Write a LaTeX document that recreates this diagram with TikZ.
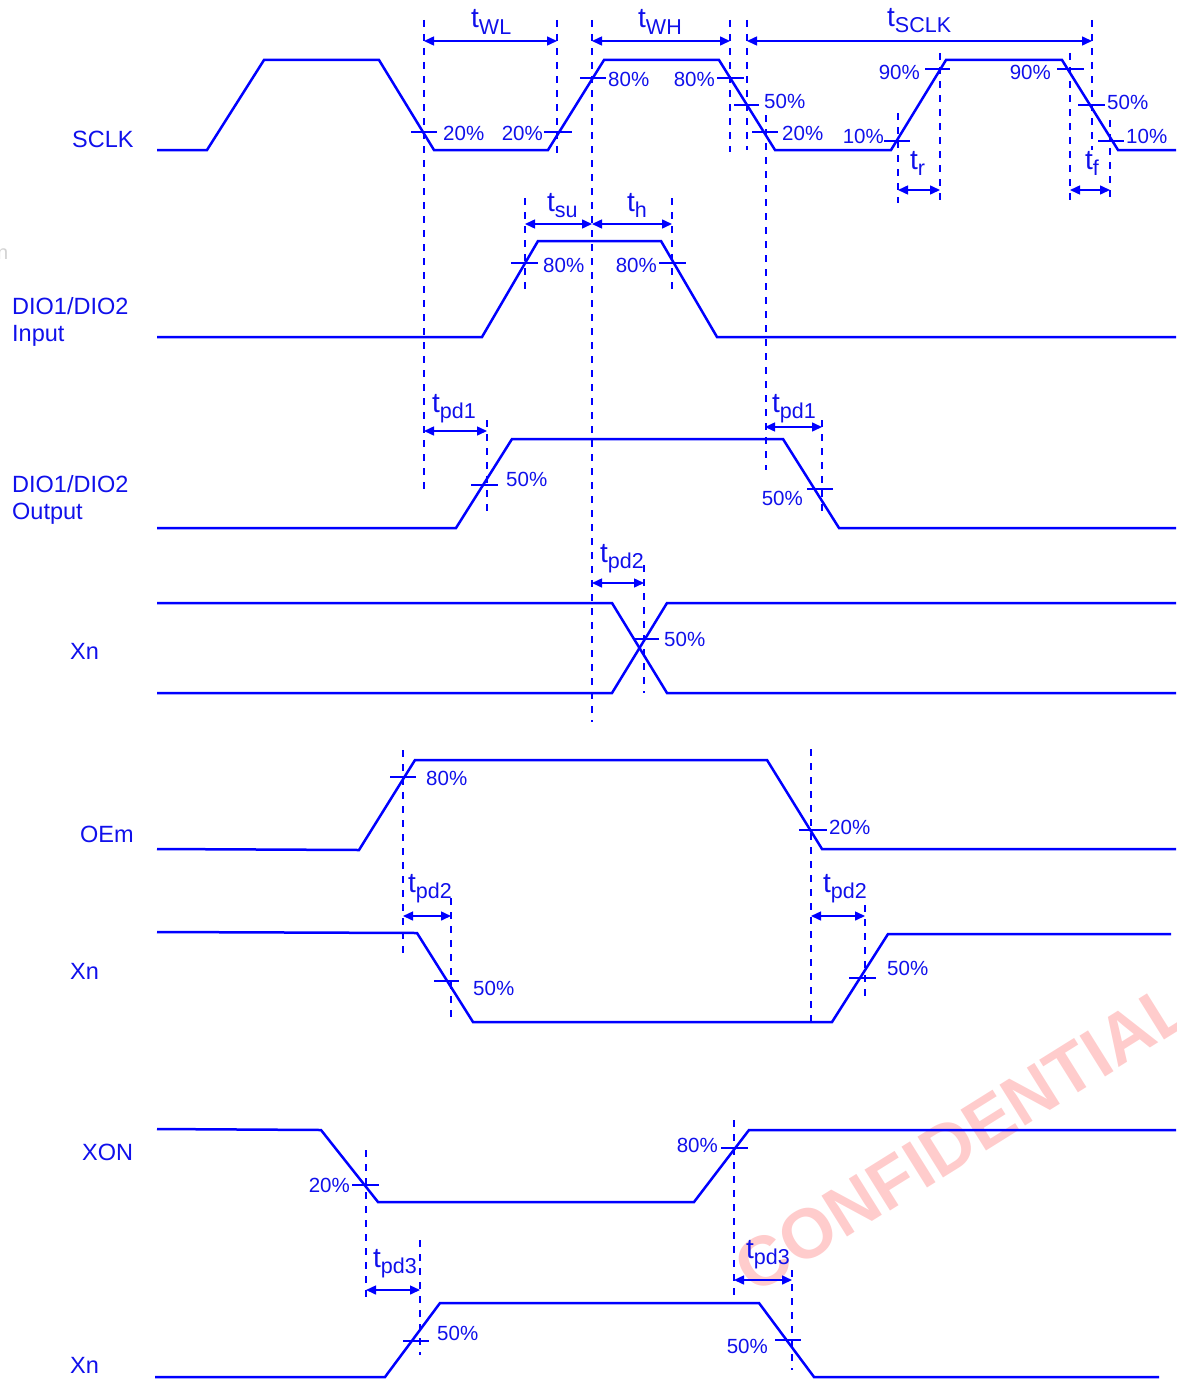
\documentclass[tikz,border=0pt]{standalone}
\usepackage{fontspec}
\setmainfont{Liberation Sans}
\usetikzlibrary{arrows.meta}
\definecolor{sig}{RGB}{0,0,255}
\definecolor{txt}{RGB}{16,16,235}
\definecolor{wm}{RGB}{255,204,204}
\newcommand\tsub[1]{t\raisebox{-6pt}{\fontsize{21.5}{21.5}\selectfont #1}}
\begin{document}
\begin{tikzpicture}[x=1pt,y=-1pt,
  wave/.style={draw=sig,line width=2.5pt},
  tick/.style={draw=sig,line width=2.4pt},
  guide/.style={draw=sig,line width=2pt,dash pattern=on 7pt off 7pt},
  dim/.style={draw=sig,line width=1.5pt,{Triangle[length=10pt,width=9pt]}-{Triangle[length=10pt,width=9pt]}},
  pl/.style={text=txt,inner sep=0pt,font=\fontsize{20.5}{20.5}\selectfont,anchor=base west},
  pr/.style={pl,anchor=base east},
  nm/.style={text=txt,inner sep=0pt,font=\fontsize{23.5}{26}\selectfont,anchor=base west},
  tl/.style={text=txt,inner sep=0pt,font=\fontsize{28}{28}\selectfont,anchor=base west}]
\useasboundingbox (0,0) rectangle (1176,1381);
% watermark
\node[rotate=32,text=wm,inner sep=0pt,font=\fontsize{70}{70}\selectfont\bfseries] (wmk) at (963,1137) {CONFIDENTIAL};
\node[text=gray!35,inner sep=0pt,font=\fontsize{20}{20}\selectfont,anchor=base west] (stray) at (-3,259) {n};
% guide lines
\foreach \x/\a/\b in {424/20/495, 557/20/155, 592/20/722, 730/20/152, 747/20/150, 766/115/470,
  898/113/203, 940/53/200, 1070/53/200, 1092/20/150, 1110/120/203,
  525/198/293, 672/198/293, 487/420/515, 822/420/515, 644/565/693,
  403/750/958, 451/898/1020, 811/749/1025, 865/905/1000,
  366/1150/1303, 420/1240/1355, 734/1120/1297, 792/1270/1370}
  \draw[guide] (\x,\a) -- (\x,\b);
% waveforms
\draw[wave] (157,150)--(207,150)--(264,60)--(379,60)--(434,150)--(548,150)--(604,60)--(719,60)--(775,150)--(891,150)--(946,60)--(1062,60)--(1118,150)--(1176,150);
\draw[wave] (157,337)--(482,337)--(538,241)--(661,241)--(717,337)--(1176,337);
\draw[wave] (157,528)--(456,528)--(512,439)--(783,439)--(839,528)--(1176,528);
\draw[wave] (157,603)--(612,603)--(667,693)--(1176,693);
\draw[wave] (157,693)--(612,693)--(667,603)--(1176,603);
\draw[wave] (157,849)--(359,850)--(415,760)--(767,760)--(822,849)--(1176,849);
\draw[wave] (157,932)--(417,933)--(473,1022)--(832,1022)--(888,934)--(1171,934);
\draw[wave] (157,1129)--(321,1130)--(378,1202)--(694,1202)--(749,1130)--(1176,1130);
\draw[wave] (155,1377)--(385,1377)--(440,1303)--(759,1303)--(814,1377)--(1159,1377);
% ticks
\foreach \y/\a/\b in {132/411/437, 132/544/572, 78/580/606, 78/717/744, 105/734/759, 132/752/778,
  141/884/910, 69/925/950, 69/1057/1084, 105/1078/1105, 141/1098/1124,
  263/511/538, 263/659/686, 485/471/498, 489/807/833, 639/635/659,
  777/390/416, 830/799/827, 981/434/459, 978/849/876,
  1185/352/379, 1148/721/748, 1341/403/429, 1340/775/801}
  \draw[tick] (\a,\y) -- (\b,\y);
% dimension arrows
\foreach \y/\a/\b in {41/424/557, 41/592/730, 41/747/1092, 190/898/940, 190/1070/1110,
  224/525/592, 224/592/672, 431/424/487, 427/765/822, 583/592/644,
  916/403/451, 916/811/865, 1290/366/420, 1280/734/792}
  \draw[dim] (\a,\y) -- (\b,\y);
% timing labels
\node[tl] (twl) at (471,28) {\tsub{WL}};
\node[tl] (twh) at (638,28) {\tsub{WH}};
\node[tl] (tsclk) at (887,27) {\tsub{SCLK}};
\node[tl] (tr) at (910,169) {\tsub{r}};
\node[tl] (tf) at (1085,169) {\tsub{f}};
\node[tl] (tsu) at (547,211) {\tsub{su}};
\node[tl] (th) at (627,211) {\tsub{h}};
\node[tl] (tpda) at (432,412) {\tsub{pd1}};
\node[tl] (tpdb) at (772,412) {\tsub{pd1}};
\node[tl] (tpdc) at (600,562) {\tsub{pd2}};
\node[tl] (tpdd) at (408,892) {\tsub{pd2}};
\node[tl] (tpde) at (823,892) {\tsub{pd2}};
\node[tl] (tpdf) at (373,1267) {\tsub{pd3}};
\node[tl] (tpdg) at (746,1258) {\tsub{pd3}};
% percent labels
\node[pl] (p1) at (443,140) {20\%};
\node[pr] (p2) at (543,140) {20\%};
\node[pl] (p3) at (608,86) {80\%};
\node[pr] (p4) at (715,86) {80\%};
\node[pl] (p5) at (764,108) {50\%};
\node[pl] (p6) at (782,140) {20\%};
\node[pr] (p7) at (884,143) {10\%};
\node[pr] (p8) at (920,79) {90\%};
\node[pr] (p9) at (1051,79) {90\%};
\node[pl] (p10) at (1107,109) {50\%};
\node[pl] (p11) at (1126,143) {10\%};
\node[pl] (p12) at (543,272) {80\%};
\node[pr] (p13) at (657,272) {80\%};
\node[pl] (p14) at (506,486) {50\%};
\node[pr] (p15) at (803,505) {50\%};
\node[pl] (p16) at (664,646) {50\%};
\node[pl] (p17) at (426,785) {80\%};
\node[pl] (p18) at (829,834) {20\%};
\node[pl] (p19) at (473,995) {50\%};
\node[pl] (p20) at (887,975) {50\%};
\node[pr] (p21) at (350,1192) {20\%};
\node[pr] (p22) at (718,1152) {80\%};
\node[pl] (p23) at (437,1340) {50\%};
\node[pr] (p24) at (768,1353) {50\%};
% signal names
\node[nm] (sclk) at (72,147) {SCLK};
\node[nm] (dioi) at (12,314) {DIO1/DIO2};
\node[nm] (dioi2) at (12,341) {Input};
\node[nm] (dioo) at (12,492) {DIO1/DIO2};
\node[nm] (dioo2) at (12,519) {Output};
\node[nm] (xn1) at (70,659) {Xn};
\node[nm] (oem) at (80,842) {OEm};
\node[nm] (xn2) at (70,979) {Xn};
\node[nm] (xon) at (82,1160) {XON};
\node[nm] (xn3) at (70,1373) {Xn};
\end{tikzpicture}
\end{document}
